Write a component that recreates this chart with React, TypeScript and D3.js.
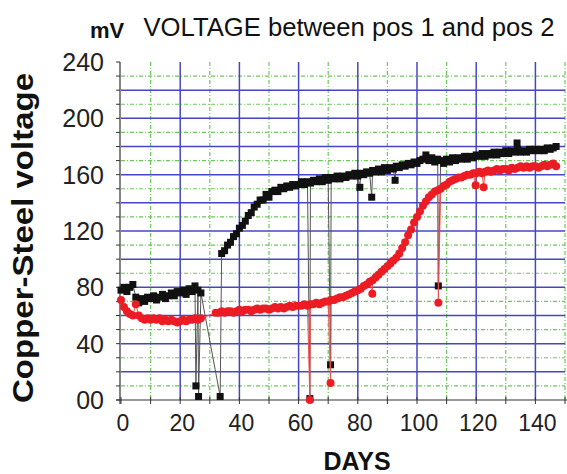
import React from "react";
import * as d3 from "d3";

// ---- data ----
const title = "VOLTAGE between pos 1 and pos 2";
const unitLabel = "mV";
const yTitle = "Copper-Steel voltage";
const xTitle = "DAYS";

const yTickValues = [0, 40, 80, 120, 160, 200, 240];
const yTickLabels = ["00", "40", "80", "120", "160", "200", "240"];
const xTickValues = [0, 20, 40, 60, 80, 100, 120, 140];
const xTickLabels = ["0", "20", "40", "60", "80", "100", "120", "140"];

// black series (squares), one value per day
const blackEarlyStart = 0;
const blackEarly = [
  78, 80, 77, 80, 82, 73, 69, 72, 70, 73, 72, 74, 71, 73, 75, 72, 74, 76, 74, 77,
  76, 78, 75, 79, 77, 81, 78, 76,
];
const blackLateStart = 34;
const blackLate = [
  104, 106, 110, 112, 116, 118, 122, 124, 127, 131, 133, 137, 139, 142, 142, 146,
  144, 148, 149, 148, 151, 150, 152, 151, 153, 152, 153, 155, 153, 155, 154, 156,
  155, 157, 155, 158, 156, 158, 157, 159, 157, 159, 158, 160, 159, 161, 159, 161,
  160, 162, 161, 163, 162, 164, 162, 165, 163, 165, 164, 166, 165, 167, 166, 168,
  167, 169, 168, 170, 171, 174, 170, 172, 169, 171, 170, 168, 171, 169, 172, 170,
  172, 171, 173, 171, 173, 172, 174, 173, 175, 173, 175, 174, 176, 174, 176, 175,
  177, 175, 177, 176, 178, 176, 177, 176, 178, 177, 178, 177, 178, 177, 179, 178,
  179, 180,
];
const blackOutlierDays = [25.3, 26.2, 33.5, 63.8, 70.8, 80.7, 84.7, 92.6, 107.2, 133.8];
const blackOutlierValues = [10, 2.5, 2.5, 1, 25, 151, 144, 156, 81, 182.5];

// red series (circles), one value per day
const redEarlyStart = 0;
const redEarly = [
  71, 66, 63, 61, 60, 68, 60, 58, 57, 58, 57, 58, 57, 58, 56, 57, 56, 57, 56, 55,
  56, 57, 56, 57, 57, 58, 57, 58,
];
const redLateStart = 32;
const redLate = [
  62, 62, 63, 62, 63, 63, 62, 63, 64, 63, 64, 64, 63, 64, 65, 64, 65, 65, 64, 65,
  66, 65, 66, 65, 66, 67, 66, 67, 67, 67, 68, 67, 68, 68, 69, 68, 69, 70, 70, 71,
  71, 72, 73, 73, 74, 75, 76, 77, 78, 79, 81, 82, 84, 85, 87, 89, 91, 93, 95, 97,
  99, 101, 104, 108, 112, 117, 121, 126, 130, 134, 138, 141, 144, 146, 148, 149,
  150, 152, 153, 155, 156, 157, 158, 158, 159, 160, 160, 161, 161, 162, 161, 162,
  163, 162, 163, 164, 163, 164, 164, 163, 165, 164, 165, 166, 165, 166, 165, 166,
  166, 165, 166, 167, 166, 167, 168, 166,
];
const redOutlierDays = [63.8, 70.8, 84.9, 107.2, 119.8, 122.5];
const redOutlierValues = [0, 12, 75.5, 69, 152.5, 151];

type P = [number, number];
function buildSeries(
  earlyStart: number,
  early: number[],
  lateStart: number,
  late: number[],
  odays: number[],
  ovals: number[]
): P[] {
  const pts: P[] = [];
  early.forEach((v, i) => pts.push([earlyStart + i, v]));
  late.forEach((v, i) => pts.push([lateStart + i, v]));
  odays.forEach((d, i) => pts.push([d, ovals[i]]));
  pts.sort((a, b) => a[0] - b[0]);
  return pts;
}

const blackPts = buildSeries(blackEarlyStart, blackEarly, blackLateStart, blackLate, blackOutlierDays, blackOutlierValues);
const redPts = buildSeries(redEarlyStart, redEarly, redLateStart, redLate, redOutlierDays, redOutlierValues);

export default function App() {
  const W = 567;
  const H = 474;
  const x = d3.scaleLinear().domain([0, 150]).range([121, 565]);
  const y = d3.scaleLinear().domain([0, 240]).range([400, 62]);

  const blueH = d3.range(20, 240, 20);
  const greenH = d3.range(10, 240, 20);
  const blueV = d3.range(20, 150, 20);
  const greenV = d3.range(10, 151, 20);
  const yMinor = d3.range(0, 241, 10);
  const xMinor = d3.range(0, 151, 10);

  const line = d3
    .line<P>()
    .x((d) => x(d[0]))
    .y((d) => y(d[1]));

  const blue = "#4646c4";
  const green = "#6cc85a";
  const font = "Liberation Sans, Arial, sans-serif";
  const sq = 7;

  return (
    <svg
      width={W}
      height={H}
      viewBox={`0 0 ${W} ${H}`}
      style={{ position: "absolute", left: 0, top: 0, background: "#fff" }}
      fontFamily={font}
    >
      <rect x={0} y={0} width={W} height={H} fill="#fff" />
      {/* grid */}
      {greenH.map((v) => (
        <line key={"gh" + v} x1={x(0)} x2={x(150)} y1={y(v)} y2={y(v)} stroke={green} strokeWidth={1.2} strokeDasharray="4 2 1 2" />
      ))}
      {greenV.map((v) => (
        <line key={"gv" + v} x1={x(v)} x2={x(v)} y1={y(240)} y2={y(0)} stroke={green} strokeWidth={1.2} strokeDasharray="4 2 1 2" />
      ))}
      {blueH.map((v) => (
        <line key={"bh" + v} x1={x(0)} x2={x(150)} y1={y(v)} y2={y(v)} stroke={blue} strokeWidth={1.5} />
      ))}
      {blueV.map((v) => (
        <line key={"bv" + v} x1={x(v)} x2={x(v)} y1={y(240)} y2={y(0)} stroke={blue} strokeWidth={1.5} />
      ))}

      {/* axes */}
      <line x1={x(0) - 1} x2={x(0) - 1} y1={y(240)} y2={y(0) + 4} stroke="#333" strokeWidth={1.2} />
      <line x1={x(0) - 5} x2={W} y1={y(0)} y2={y(0)} stroke="#333" strokeWidth={1.2} />
      {yMinor.map((v) => (
        <line key={"yt" + v} x1={x(0) - 5} x2={x(0) - 1} y1={y(v)} y2={y(v)} stroke="#333" strokeWidth={1} />
      ))}
      {xMinor.map((v) => (
        <line key={"xt" + v} x1={x(v)} x2={x(v)} y1={y(0) - 3} y2={y(0) + 4} stroke="#333" strokeWidth={1} />
      ))}
      {yTickValues.map((v, i) => (
        <text key={"yl" + v} x={104} y={y(v)} dy="0.36em" textAnchor="end" fontSize={25} fill="#222">
          {yTickLabels[i]}
        </text>
      ))}
      {xTickValues.map((v, i) => (
        <text key={"xl" + v} x={x(v) + 2} y={431} textAnchor="middle" fontSize={23} fill="#222">
          {xTickLabels[i]}
        </text>
      ))}

      {/* black series */}
      <path d={line(blackPts) || ""} fill="none" stroke="#555" strokeWidth={1} />
      {blackPts.map((p, i) => (
        <rect key={"b" + i} x={x(p[0]) - sq / 2} y={y(p[1]) - sq / 2} width={sq} height={sq} fill="#111" />
      ))}

      {/* red series */}
      <path d={line(redPts) || ""} fill="none" stroke="#f05050" strokeWidth={1} />
      {redPts.map((p, i) => (
        <circle key={"r" + i} cx={x(p[0])} cy={y(p[1])} r={4} fill="#ec1c24" />
      ))}

      {/* titles */}
      <text x={349} y={36} textAnchor="middle" fontSize={25} fill="#111" textLength={411} lengthAdjust="spacingAndGlyphs">
        {title}
      </text>
      <text x={107} y={38} textAnchor="middle" fontSize={22} fontWeight="bold" fill="#111">
        {unitLabel}
      </text>
      <text
        transform={`translate(33,238) rotate(-90)`}
        textAnchor="middle"
        fontSize={30}
        fontWeight="bold"
        fill="#111"
        textLength={330}
        lengthAdjust="spacingAndGlyphs"
      >
        {yTitle}
      </text>
      <text x={357} y={470} textAnchor="middle" fontSize={25} fontWeight="bold" fill="#111">
        {xTitle}
      </text>
    </svg>
  );
}
